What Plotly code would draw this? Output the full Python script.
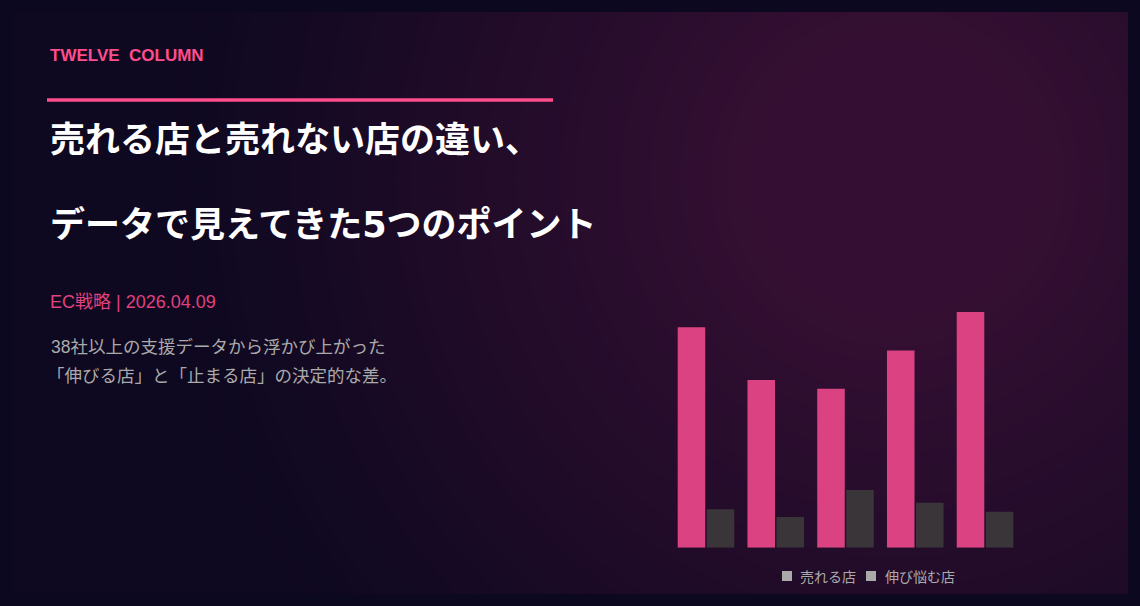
import plotly.graph_objects as go

# ---- data ----
categories = ["ポイント1", "ポイント2", "ポイント3", "ポイント4", "ポイント5"]
series_names = ["売れる店", "伸び悩む店"]
selling = [86, 65.5, 62, 77, 92]
struggling = [15, 12, 22.5, 17.5, 14]

W, H = 1140, 606
PAGE_BG = "#0c0820"
BASE = (14, 8, 32)
CENTER = (53, 15, 51)
PINK = "#db4281"
GRAY = "#3a3539"

fig = go.Figure()

fig.add_trace(go.Bar(x=categories, y=selling, name=series_names[0],
                     marker=dict(color=PINK, line=dict(width=0)),
                     xaxis="x2", yaxis="y2", showlegend=False, hoverinfo="y"))
fig.add_trace(go.Bar(x=categories, y=struggling, name=series_names[1],
                     marker=dict(color=GRAY, line=dict(width=0)),
                     xaxis="x2", yaxis="y2", showlegend=False, hoverinfo="y"))

shapes = []
# panel base
shapes.append(dict(type="rect", xref="x", yref="y", x0=12, x1=1128, y0=12, y1=594,
                   fillcolor="rgb(%d,%d,%d)" % BASE, line=dict(width=0), layer="below"))
# radial glow (concentric circles)
cx, cy = 895, 178
R0, R = 140, 740
step = 15
r = R
while r > R0:
    f = max(0.0, 1 - (r - R0) / (R - R0)) ** 1.15
    col = tuple(int(round(BASE[i] + f * (CENTER[i] - BASE[i]))) for i in range(3))
    shapes.append(dict(type="circle", xref="x", yref="y", x0=cx - r, x1=cx + r,
                       y0=cy - r, y1=cy + r, fillcolor="rgb(%d,%d,%d)" % col,
                       line=dict(width=0), layer="below"))
    r -= step
shapes.append(dict(type="circle", xref="x", yref="y", x0=cx - R0, x1=cx + R0,
                   y0=cy - R0, y1=cy + R0, fillcolor="rgb(%d,%d,%d)" % CENTER,
                   line=dict(width=0), layer="below"))

def px(x):
    return x / W

def py(y):
    return 1 - y / H

# pink rule
shapes.append(dict(type="line", xref="paper", yref="paper", x0=px(47), x1=px(553),
                   y0=py(100), y1=py(100), line=dict(color="#ff4d8d", width=3.5), layer="above"))
# legend squares
for x0 in (782, 866):
    shapes.append(dict(type="rect", xref="paper", yref="paper", x0=px(x0), x1=px(x0 + 10),
                       y0=py(581), y1=py(571), fillcolor="#aaaaaa", line=dict(width=0), layer="above"))

LAT = "Liberation Sans, Noto Sans CJK JP, sans-serif"
TITLE = "Liberation Sans, Noto Sans CJK JP"
annotations = [
    dict(text="TWELVE\u00a0\u00a0COLUMN", x=px(48), y=py(55), xanchor="left", yanchor="middle",
         font=dict(family=LAT, size=17, color="#ff4d8d", weight="bold")),
    dict(text="売れる店と売れない店の違い、", x=px(48), y=py(139), xanchor="left", yanchor="middle",
         font=dict(family=TITLE, size=35, color="#ffffff", weight="bold")),
    dict(text="データで見えてきた<span style='font-family:DejaVu Sans'>5</span>つのポイント",
         x=px(48), y=py(225), xanchor="left", yanchor="middle",
         font=dict(family=TITLE, size=35, color="#ffffff", weight="bold")),
    dict(text="EC戦略 | 2026.04.09", x=px(48), y=py(302), xanchor="left", yanchor="middle",
         font=dict(family=LAT, size=18, color="#e0417f")),
    dict(text="38社以上の支援データから浮かび上がった", x=px(49), y=py(347), xanchor="left", yanchor="middle",
         font=dict(family=LAT, size=17.5, color="#aaaaaa")),
    dict(text="「伸びる店」と「止まる店」の決定的な差。", x=px(45), y=py(376), xanchor="left", yanchor="middle",
         font=dict(family=LAT, size=17.5, color="#aaaaaa")),
    dict(text=series_names[0], x=px(798), y=py(576), xanchor="left", yanchor="middle",
         font=dict(family="Noto Sans CJK JP", size=14, color="#aaaaaa")),
    dict(text=series_names[1], x=px(883), y=py(576), xanchor="left", yanchor="middle",
         font=dict(family="Noto Sans CJK JP", size=14, color="#aaaaaa")),
]
for a in annotations:
    a.update(xref="paper", yref="paper", showarrow=False)

fig.update_layout(
    width=W, height=H,
    margin=dict(l=0, r=0, t=0, b=0, pad=0),
    paper_bgcolor=PAGE_BG,
    plot_bgcolor="rgba(0,0,0,0)",
    showlegend=False,
    barmode="group",
    bargap=0.168,
    bargroupgap=0.05,
    shapes=shapes,
    annotations=annotations,
    xaxis=dict(domain=[12 / W, 1128 / W], range=[12, 1128], visible=False, fixedrange=True),
    yaxis=dict(domain=[12 / H, 594 / H], range=[594, 12], visible=False, fixedrange=True),
    xaxis2=dict(domain=[671.1 / W, 1019.9 / W], anchor="y2", visible=False, type="category",
                fixedrange=True),
    yaxis2=dict(domain=[58.3 / H, 314.5 / H], anchor="x2", range=[0, 100], visible=False,
                fixedrange=True),
)

fig.write_html("out.html", config=dict(displayModeBar=False),
               post_script="document.body.style.margin='0';document.body.style.background='%s';" % PAGE_BG)
